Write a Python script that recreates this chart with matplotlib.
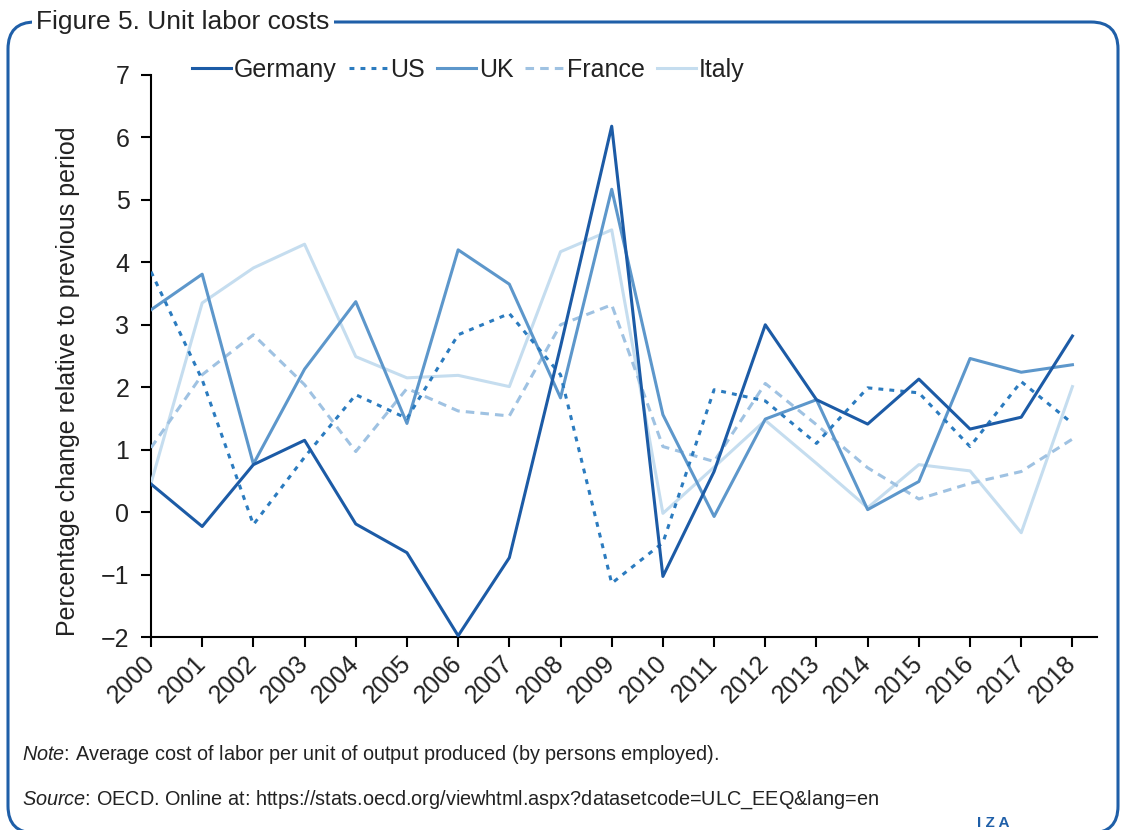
import matplotlib
matplotlib.use("Agg")
import matplotlib.pyplot as plt
from matplotlib.patches import FancyBboxPatch

# ====== Data ======
years = list(range(2000, 2019))

germany = [0.45, -0.23, 0.76, 1.15, -0.19, -0.65, -1.98, -0.73, 2.65, 6.18,
           -1.03, 0.65, 3.00, 1.80, 1.41, 2.13, 1.33, 1.52, 2.82]
us = [3.85, 2.12, -0.20, 0.88, 1.88, 1.50, 2.84, 3.18, 2.20, -1.14,
      -0.49, 1.96, 1.78, 1.10, 1.99, 1.91, 1.05, 2.09, 1.42]
uk = [3.24, 3.81, 0.77, 2.29, 3.37, 1.42, 4.20, 3.65, 1.83, 5.17,
      1.56, -0.07, 1.49, 1.80, 0.04, 0.49, 2.46, 2.24, 2.36]
france = [1.03, 2.20, 2.84, 2.04, 0.97, 1.98, 1.62, 1.54, 3.00, 3.32,
          1.05, 0.81, 2.06, 1.40, 0.71, 0.21, 0.46, 0.65, 1.17]
italy = [0.46, 3.35, 3.91, 4.29, 2.49, 2.15, 2.19, 2.01, 4.17, 4.52,
         -0.02, 0.72, 1.47, 0.78, 0.07, 0.76, 0.66, -0.33, 2.01]

labels = ["Germany", "US", "UK", "France", "Italy"]
series = [germany, us, uk, france, italy]
colors = ["#1c5ba6", "#2b7bbf", "#5d97cb", "#9fc2e2", "#c5ddef"]
styles = ["-", (0, (1.6, 2.0)), "-", (0, (2.8, 2.0)), "-"]

plt.rcParams["font.family"] = ["Liberation Sans", "DejaVu Sans"]
plt.rcParams["mathtext.fontset"] = "custom"
plt.rcParams["mathtext.it"] = "Liberation Sans:italic"
plt.rcParams["mathtext.rm"] = "Liberation Sans"
txt = "#222222"

fig = plt.figure(figsize=(11.23, 8.30), dpi=100)
ax = fig.add_axes([151 / 1123, 1 - 637 / 830, 946 / 1123, 562 / 830])

for i, (lab, vals) in enumerate(zip(labels, series)):
    z = 20 if i == 0 else 10 - i
    ax.plot(years, vals, color=colors[i], lw=2.2, linestyle=styles[i],
            label=lab, zorder=z)

ax.set_xlim(2000, 2018.48)
ax.set_ylim(-2, 7)
ax.set_xticks(years)
ax.set_xticklabels([str(y) for y in years], rotation=45, ha="right",
                   va="center", rotation_mode="anchor")
ax.set_yticks(range(-2, 8))
ax.tick_params(axis="both", direction="out", length=7.5, width=1.5,
               labelsize=18, colors="black", labelcolor=txt)
ax.tick_params(axis="y", pad=8)
ax.tick_params(axis="x", pad=9)
for s in ["top", "right"]:
    ax.spines[s].set_visible(False)
for s in ["left", "bottom"]:
    ax.spines[s].set_linewidth(1.5)

ax.set_ylabel("Percentage change relative to previous period", fontsize=18,
              color=txt)
ax.yaxis.set_label_coords(-0.075, 0.455)

ax.legend(ncol=5, loc="center left",
          bbox_to_anchor=(192 / 1123, 1 - 70 / 830),
          bbox_transform=fig.transFigure, frameon=False, fontsize=18,
          handlelength=1.55, handletextpad=0.12, columnspacing=0.48,
          borderpad=0, borderaxespad=0, labelcolor=txt)

# frame round the figure
frame = FancyBboxPatch((0.08, -0.03), 11.10, 8.11,
                       boxstyle="round,pad=0,rounding_size=0.27",
                       transform=fig.dpi_scale_trans, facecolor="none",
                       edgecolor="#1f5fa8", lw=2.2, zorder=1)
fig.add_artist(frame)

fig.text(36 / 1123, 1 - 22 / 830, "Figure 5. Unit labor costs", fontsize=19,
         color=txt, ha="left", va="center", zorder=5,
         bbox=dict(facecolor="white", edgecolor="none", pad=3))

fig.text(22 / 1123, 1 - 754 / 830,
         r"$\mathit{Note}$: Average cost of labor per unit of output produced (by persons employed).",
         fontsize=14.3, color=txt, ha="left", va="center")
fig.text(22 / 1123, 1 - 800 / 830,
         r"$\mathit{Source}$: OECD. Online at: https://stats.oecd.org/viewhtml.aspx?datasetcode=ULC_EEQ&lang=en",
         fontsize=14.3, color=txt, ha="left", va="center")

fig.text(993 / 1123, 1 - 823 / 830, "I Z A", fontsize=11, fontweight="bold",
         color="#1f5fa8", ha="center", va="center")

fig.savefig("out.png", dpi=100)
